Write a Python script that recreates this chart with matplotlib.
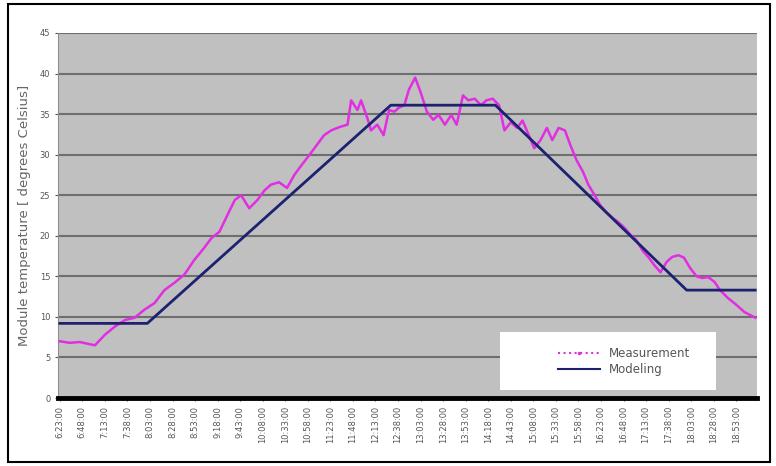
import numpy as np
import matplotlib.pyplot as plt
from matplotlib.patches import Rectangle
from matplotlib.lines import Line2D

# minutes after 6:23
meas_t = [0, 11, 22, 39, 50, 61, 72, 83, 94, 105, 116, 127, 138, 149, 160, 168,
          177, 186, 194, 201, 210, 219, 227, 234, 243, 252, 260, 268, 277, 285,
          293, 301, 310, 319, 323, 330, 334, 341, 345, 352, 359, 365, 371, 376,
          382, 387, 394, 400, 407, 414, 420, 427, 434, 440, 447, 453, 460, 467,
          473, 480, 487, 493, 500, 507, 513, 520, 526, 533, 540, 546, 553, 560,
          566, 573, 580, 586, 593, 599, 606, 613, 619, 626, 633, 639, 646, 653,
          659, 666, 673, 679, 686, 692, 699, 706, 712, 719, 726, 732, 741, 750,
          759, 771]
meas_v = [7.0, 6.8, 6.9, 6.5, 7.8, 8.8, 9.6, 9.9, 10.9, 11.7, 13.3, 14.2, 15.2,
          17.0, 18.5, 19.7, 20.5, 22.6, 24.4, 25.0, 23.4, 24.4, 25.6, 26.3, 26.6,
          25.9, 27.5, 28.7, 30.0, 31.2, 32.4, 33.0, 33.4, 33.7, 36.7, 35.5, 36.7,
          34.5, 33.0, 33.7, 32.4, 35.5, 35.3, 35.8, 36.1, 38.0, 39.5, 37.7, 35.3,
          34.3, 34.9, 33.7, 34.9, 33.7, 37.3, 36.7, 36.9, 36.1, 36.7, 36.9, 36.1,
          33.0, 34.0, 33.3, 34.2, 32.4, 30.8, 31.8, 33.3, 31.8, 33.3, 33.0, 31.2,
          29.3, 27.9, 26.3, 25.0, 23.8, 22.9, 22.2, 21.7, 21.0, 20.1, 19.5, 18.2,
          17.3, 16.4, 15.5, 16.8, 17.4, 17.6, 17.3, 16.0, 15.0, 14.8, 14.9, 14.3,
          13.3, 12.3, 11.5, 10.6, 9.9]

model_t = [0, 97, 367, 483, 695, 771]
model_v = [9.2, 9.2, 36.1, 36.1, 13.3, 13.3]

tick_min = np.arange(0, 751, 25)
tick_lbl = ['%d:%02d:00' % ((383 + m) // 60, (383 + m) % 60) for m in tick_min]

pink = '#e22ee2'
navy = '#1c2170'

fig = plt.figure(figsize=(7.76, 4.66), dpi=100)
fig.patches.append(Rectangle((8 / 776, 4 / 466), 762 / 776, 458 / 466,
                             transform=fig.transFigure, fill=False,
                             edgecolor='black', linewidth=1.5))

ax = fig.add_axes([58 / 776, 68 / 466, 699 / 776, 365 / 466])
ax.set_facecolor('#c0c0c0')

ax.plot(meas_t, meas_v, color=pink, linewidth=1.8, zorder=3)
ax.plot(model_t, model_v, color=navy, linewidth=2, zorder=4)

ax.set_xlim(-2, 773)
ax.set_ylim(0, 45)
ax.set_yticks(np.arange(0, 46, 5))
ax.set_xticks(tick_min)
ax.set_xticklabels(tick_lbl, rotation=90)
ax.tick_params(axis='both', labelsize=6, colors='#555555', length=2)
ax.yaxis.grid(True, color='#6e6e6e', linewidth=1.5)
ax.set_axisbelow(True)

for s in ['top', 'right']:
    ax.spines[s].set_visible(False)
ax.spines['left'].set_color('#909090')
ax.spines['bottom'].set_color('black')
ax.spines['bottom'].set_linewidth(3.5)

ax.set_ylabel('Module temperature [ degrees Celsius]', fontsize=9.5, color='#666666',
              labelpad=6)

ax.add_patch(Rectangle((0.632, 0.022), 0.309, 0.159, transform=ax.transAxes,
                       facecolor='white', edgecolor='none', zorder=5))
handles = [Line2D([], [], color=pink, linestyle=':', linewidth=1.5,
                  marker='.', markersize=3),
           Line2D([], [], color=navy, linewidth=1.5)]
leg = ax.legend(handles, ['Measurement', 'Modeling'], loc='center',
                bbox_to_anchor=(0.81, 0.10), frameon=False,
                fontsize=8.5, handlelength=3.5, labelspacing=0.2)
leg.set_zorder(6)
for t in leg.get_texts():
    t.set_color('#555555')

fig.savefig('out.png', dpi=100)
